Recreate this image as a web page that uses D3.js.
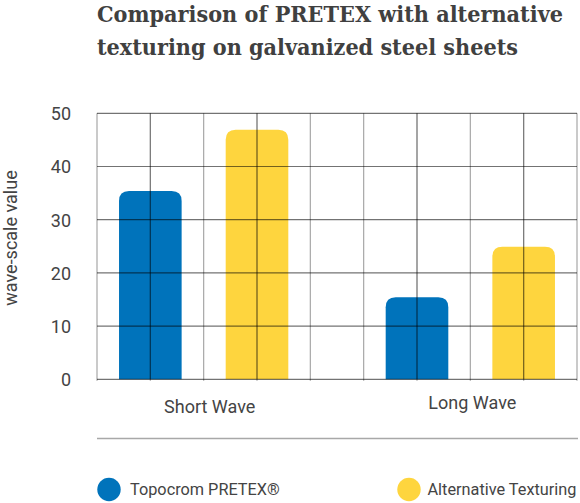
<!DOCTYPE html>
<html>
<head>
<meta charset="utf-8">
<script src="https://cdn.jsdelivr.net/npm/d3@7"></script>
<style>
  html, body { margin: 0; padding: 0; background: #fff; }
  svg { display: block; }
  text { font-family: Roboto, "Noto Sans", sans-serif; }
  text.title { font-family: "DejaVu Serif", serif; font-weight: bold; }
</style>
</head>
<body>
<svg id="chart" width="580" height="503"></svg>
<script>
// ---- data ----
const titleLines = ["Comparison of PRETEX with alternative", "texturing on galvanized steel sheets"];
const categories = ["Short Wave", "Long Wave"];
const seriesNames = ["Topocrom PRETEX®", "Alternative Texturing"];
const topocromValues = [35.4, 15.4];
const alternativeValues = [46.9, 24.9];
const yTicks = [0, 10, 20, 30, 40, 50];
const yTitle = "wave-scale value";
const colors = ["#0073bb", "#fed53e"];

(function () {
const seriesValues = [topocromValues, alternativeValues];
const rows = categories.map((c, i) => ({
  category: c,
  values: seriesNames.map((s, j) => ({ series: s, value: seriesValues[j][i], color: colors[j] }))
}));

// ---- layout ----
const svg = d3.select("#chart");
const pLeft = 97, pRight = 577, pTop = 113.3, pBottom = 379.3;

const y = d3.scaleLinear().domain([0, 50]).range([pBottom, pTop]);
const x0 = d3.scaleBand().domain(categories).range([pLeft, pRight]).paddingInner(0.2).paddingOuter(0);
const x1 = d3.scaleBand().domain(seriesNames).range([0, x0.bandwidth()]).paddingInner(0.413).paddingOuter(0.2065);
const gridX = d3.scaleLinear().domain([0, 9]).range([pLeft, pRight]);

// ---- title ----
const titleG = svg.append("g");
titleLines.forEach((t, i) => {
  titleG.append("text")
    .attr("class", "title")
    .attr("x", 97).attr("y", 22 + i * 33)
    .attr("font-size", 22.5)
    .attr("fill", "#404040")
    .attr("textLength", i === 0 ? 466 : 421)
    .attr("lengthAdjust", "spacingAndGlyphs")
    .text(t);
});

// ---- bars ----
const r = 10;
function topRounded(x, yTop, w, yBase) {
  const rr = Math.min(r, w / 2, (yBase - yTop));
  return `M${x},${yBase} L${x},${yTop + rr} Q${x},${yTop} ${x + rr},${yTop} L${x + w - rr},${yTop} Q${x + w},${yTop} ${x + w},${yTop + rr} L${x + w},${yBase} Z`;
}
const barG = svg.append("g");
rows.forEach(row => {
  barG.selectAll(null).data(row.values).enter().append("path")
    .attr("d", d => topRounded(x0(row.category) + x1(d.series), y(d.value), x1.bandwidth(), y(0)))
    .attr("fill", d => d.color);
});

// ---- grid (drawn over bars) ----
const gridG = svg.append("g");
d3.range(10).forEach(k => {
  gridG.append("line")
    .attr("x1", gridX(k)).attr("x2", gridX(k))
    .attr("y1", pTop).attr("y2", pBottom + 1.5)
    .attr("stroke", "#000").attr("stroke-opacity", 0.35).attr("stroke-width", 1.2);
});
rows.forEach(row => {
  row.values.forEach(d => {
    const cx = x0(row.category) + x1(d.series) + x1.bandwidth() / 2;
    gridG.append("line")
      .attr("x1", cx).attr("x2", cx)
      .attr("y1", pTop).attr("y2", pBottom)
      .attr("stroke", "#000").attr("stroke-opacity", 0.3).attr("stroke-width", 1.2);
  });
});
yTicks.forEach(t => {
  gridG.append("line")
    .attr("x1", pLeft).attr("x2", pRight)
    .attr("y1", y(t)).attr("y2", y(t))
    .attr("stroke", "#000").attr("stroke-opacity", 0.55).attr("stroke-width", 1.2);
});

// ---- y axis labels ----
const yAxis = d3.axisLeft(y).tickValues(yTicks).tickSize(0).tickPadding(0);
const yAxisG = svg.append("g").attr("transform", `translate(71,0)`).call(yAxis);
yAxisG.select(".domain").remove();
yAxisG.selectAll("text")
  .attr("font-size", 18)
  .attr("fill", "#444")
  .attr("dy", "0.35em");

svg.append("text")
  .attr("transform", `translate(17,238) rotate(-90)`)
  .attr("text-anchor", "middle")
  .attr("font-size", 18)
  .attr("fill", "#444")
  .text(yTitle);

// ---- category labels ----
categories.forEach((c, i) => {
  svg.append("text")
    .attr("x", x0(c) + x0.bandwidth() / 2 + (i === 0 ? 6 : 2))
    .attr("y", i === 0 ? 413 : 409)
    .attr("text-anchor", "middle")
    .attr("font-size", 18)
    .attr("fill", "#444")
    .text(c);
});

// ---- separator ----
svg.append("line")
  .attr("x1", pLeft).attr("x2", 578)
  .attr("y1", 438.5).attr("y2", 438.5)
  .attr("stroke", "#a8a8a8").attr("stroke-width", 1.5);

// ---- legend ----
const legendX = [109, 409];
seriesNames.forEach((s, i) => {
  const g = svg.append("g").attr("transform", `translate(${legendX[i]},489.5)`);
  g.append("circle").attr("r", 11.7).attr("fill", colors[i]);
  g.append("text")
    .attr("x", i === 0 ? 21 : 18.5).attr("y", 0).attr("dy", "0.35em")
    .attr("font-size", 16.3)
    .attr("fill", "#444")
    .text(s);
});
})();
</script>
</body>
</html>
